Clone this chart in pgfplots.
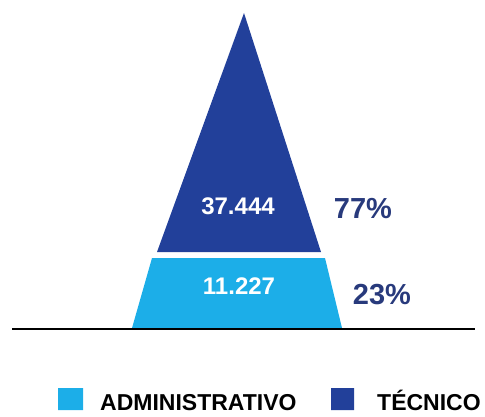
\documentclass[border=0pt]{standalone}
\usepackage{fontspec}
\setmainfont{Liberation Sans}
\usepackage{pgfplots}
\pgfplotsset{compat=1.18}
\definecolor{lightb}{HTML}{1CAEE8}
\definecolor{darkb}{HTML}{22409A}
\definecolor{navy}{HTML}{283A7C}
\begin{document}
\begin{tikzpicture}
\begin{axis}[
  scale only axis, width=485pt, height=416pt,
  xmin=0, xmax=485, ymin=0, ymax=416,
  hide axis, clip=false,
]
% ADMINISTRATIVO (11.227, 23%)
\addplot[fill=lightb, draw=none] coordinates {(132,88) (342,88) (325,158) (152,158) (132,88)};
% TECNICO (37.444, 77%)
\addplot[fill=darkb, draw=none] coordinates {(157,164) (321,164) (244,403) (157,164)};
% baseline
\addplot[black, line width=2pt] coordinates {(12,87) (475,87)};
% legend swatches
\addplot[fill=lightb, draw=none] coordinates {(58,6) (83,6) (83,28) (58,28) (58,6)};
\addplot[fill=darkb, draw=none] coordinates {(331,6) (354,6) (354,28) (331,28) (331,6)};
\node[anchor=base west, inner sep=0pt, font=\bfseries\fontsize{23}{24}\selectfont] at (axis cs:100,6) {ADMINISTRATIVO};
\node[anchor=base west, inner sep=0pt, font=\bfseries\fontsize{23}{24}\selectfont] at (axis cs:377,6) {TÉCNICO};
\node[white, font=\bfseries\fontsize{24}{24}\selectfont] at (axis cs:238,210) {37.444};
\node[white, font=\bfseries\fontsize{24}{24}\selectfont] at (axis cs:239,130) {11.227};
\node[navy, font=\bfseries\fontsize{29}{29}\selectfont] at (axis cs:363,207) {77\%};
\node[navy, font=\bfseries\fontsize{29}{29}\selectfont] at (axis cs:382,121) {23\%};
\end{axis}
\pgfresetboundingbox
\useasboundingbox (current axis.south west) rectangle (current axis.north east);
\end{tikzpicture}
\end{document}
